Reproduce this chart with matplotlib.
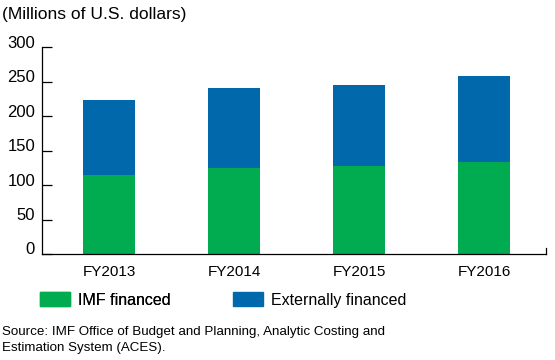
import matplotlib
matplotlib.use("Agg")
import matplotlib.pyplot as plt
from matplotlib.patches import Patch
from matplotlib.transforms import ScaledTranslation

categories = ["FY2013", "FY2014", "FY2015", "FY2016"]
imf_financed = [115, 125, 128, 134]
externally_financed = [108, 116, 117, 125]
yticks = [0, 50, 100, 150, 200, 250, 300]

green = "#00AC4F"
blue = "#0068AB"

plt.rcParams['font.family'] = ['Liberation Sans', 'DejaVu Sans']

fig = plt.figure(figsize=(5.55, 3.6), dpi=100)
ax = fig.add_axes([42/555, 1-254/360, (546-42)/555, (254-47.3)/360])

x = list(range(len(categories)))
ax.bar(x, imf_financed, width=0.416, color=green, label="IMF financed")
ax.bar(x, externally_financed, width=0.416, bottom=imf_financed, color=blue,
       label="Externally financed")

ax.set_ylim(0, 300)
ax.set_xlim(-0.536, 3.496)
ax.set_yticks(yticks)
ax.set_yticklabels([str(v) for v in yticks], fontsize=12)
ax.set_xticks(x)
ax.set_xticklabels(categories, fontsize=11)
ax.tick_params(axis='y', direction='in', length=7.5, width=0.9, pad=5)
ax.tick_params(axis='x', length=0, pad=8)
offset = ScaledTranslation(0, 4/72, fig.dpi_scale_trans)
for lbl in ax.get_yticklabels():
    lbl.set_transform(lbl.get_transform() + offset)
for s in ["top", "right"]:
    ax.spines[s].set_visible(False)
for s in ["left", "bottom"]:
    ax.spines[s].set_linewidth(0.9)
# small end tick at right of x axis
ax.plot([1, 1], [0, 0.03], transform=ax.transAxes, color="black", lw=0.9, clip_on=False)

fig.text(2/555, 1-15/360, "(Millions of U.S. dollars)", fontsize=12.5, ha="left", va="center")

leg_kw = dict(loc="center left", frameon=False, fontsize=11.5, handlelength=1.88,
              handleheight=0.95, handletextpad=0.5, borderpad=0, borderaxespad=0)
leg1 = fig.legend([Patch(color=green)], ["IMF financed"],
                  bbox_to_anchor=(40/555, 1-300/360), **leg_kw)
fig.add_artist(leg1)
fig.legend([Patch(color=blue)], ["Externally financed"],
           bbox_to_anchor=(233/555, 1-300/360), **leg_kw)

fig.text(2/555, 1-332/360, "Source: IMF Office of Budget and Planning, Analytic Costing and",
         fontsize=9.6, ha="left", va="center")
fig.text(2/555, 1-348/360, "Estimation System (ACES).", fontsize=9.6, ha="left", va="center")

fig.savefig("out.png", dpi=100)
